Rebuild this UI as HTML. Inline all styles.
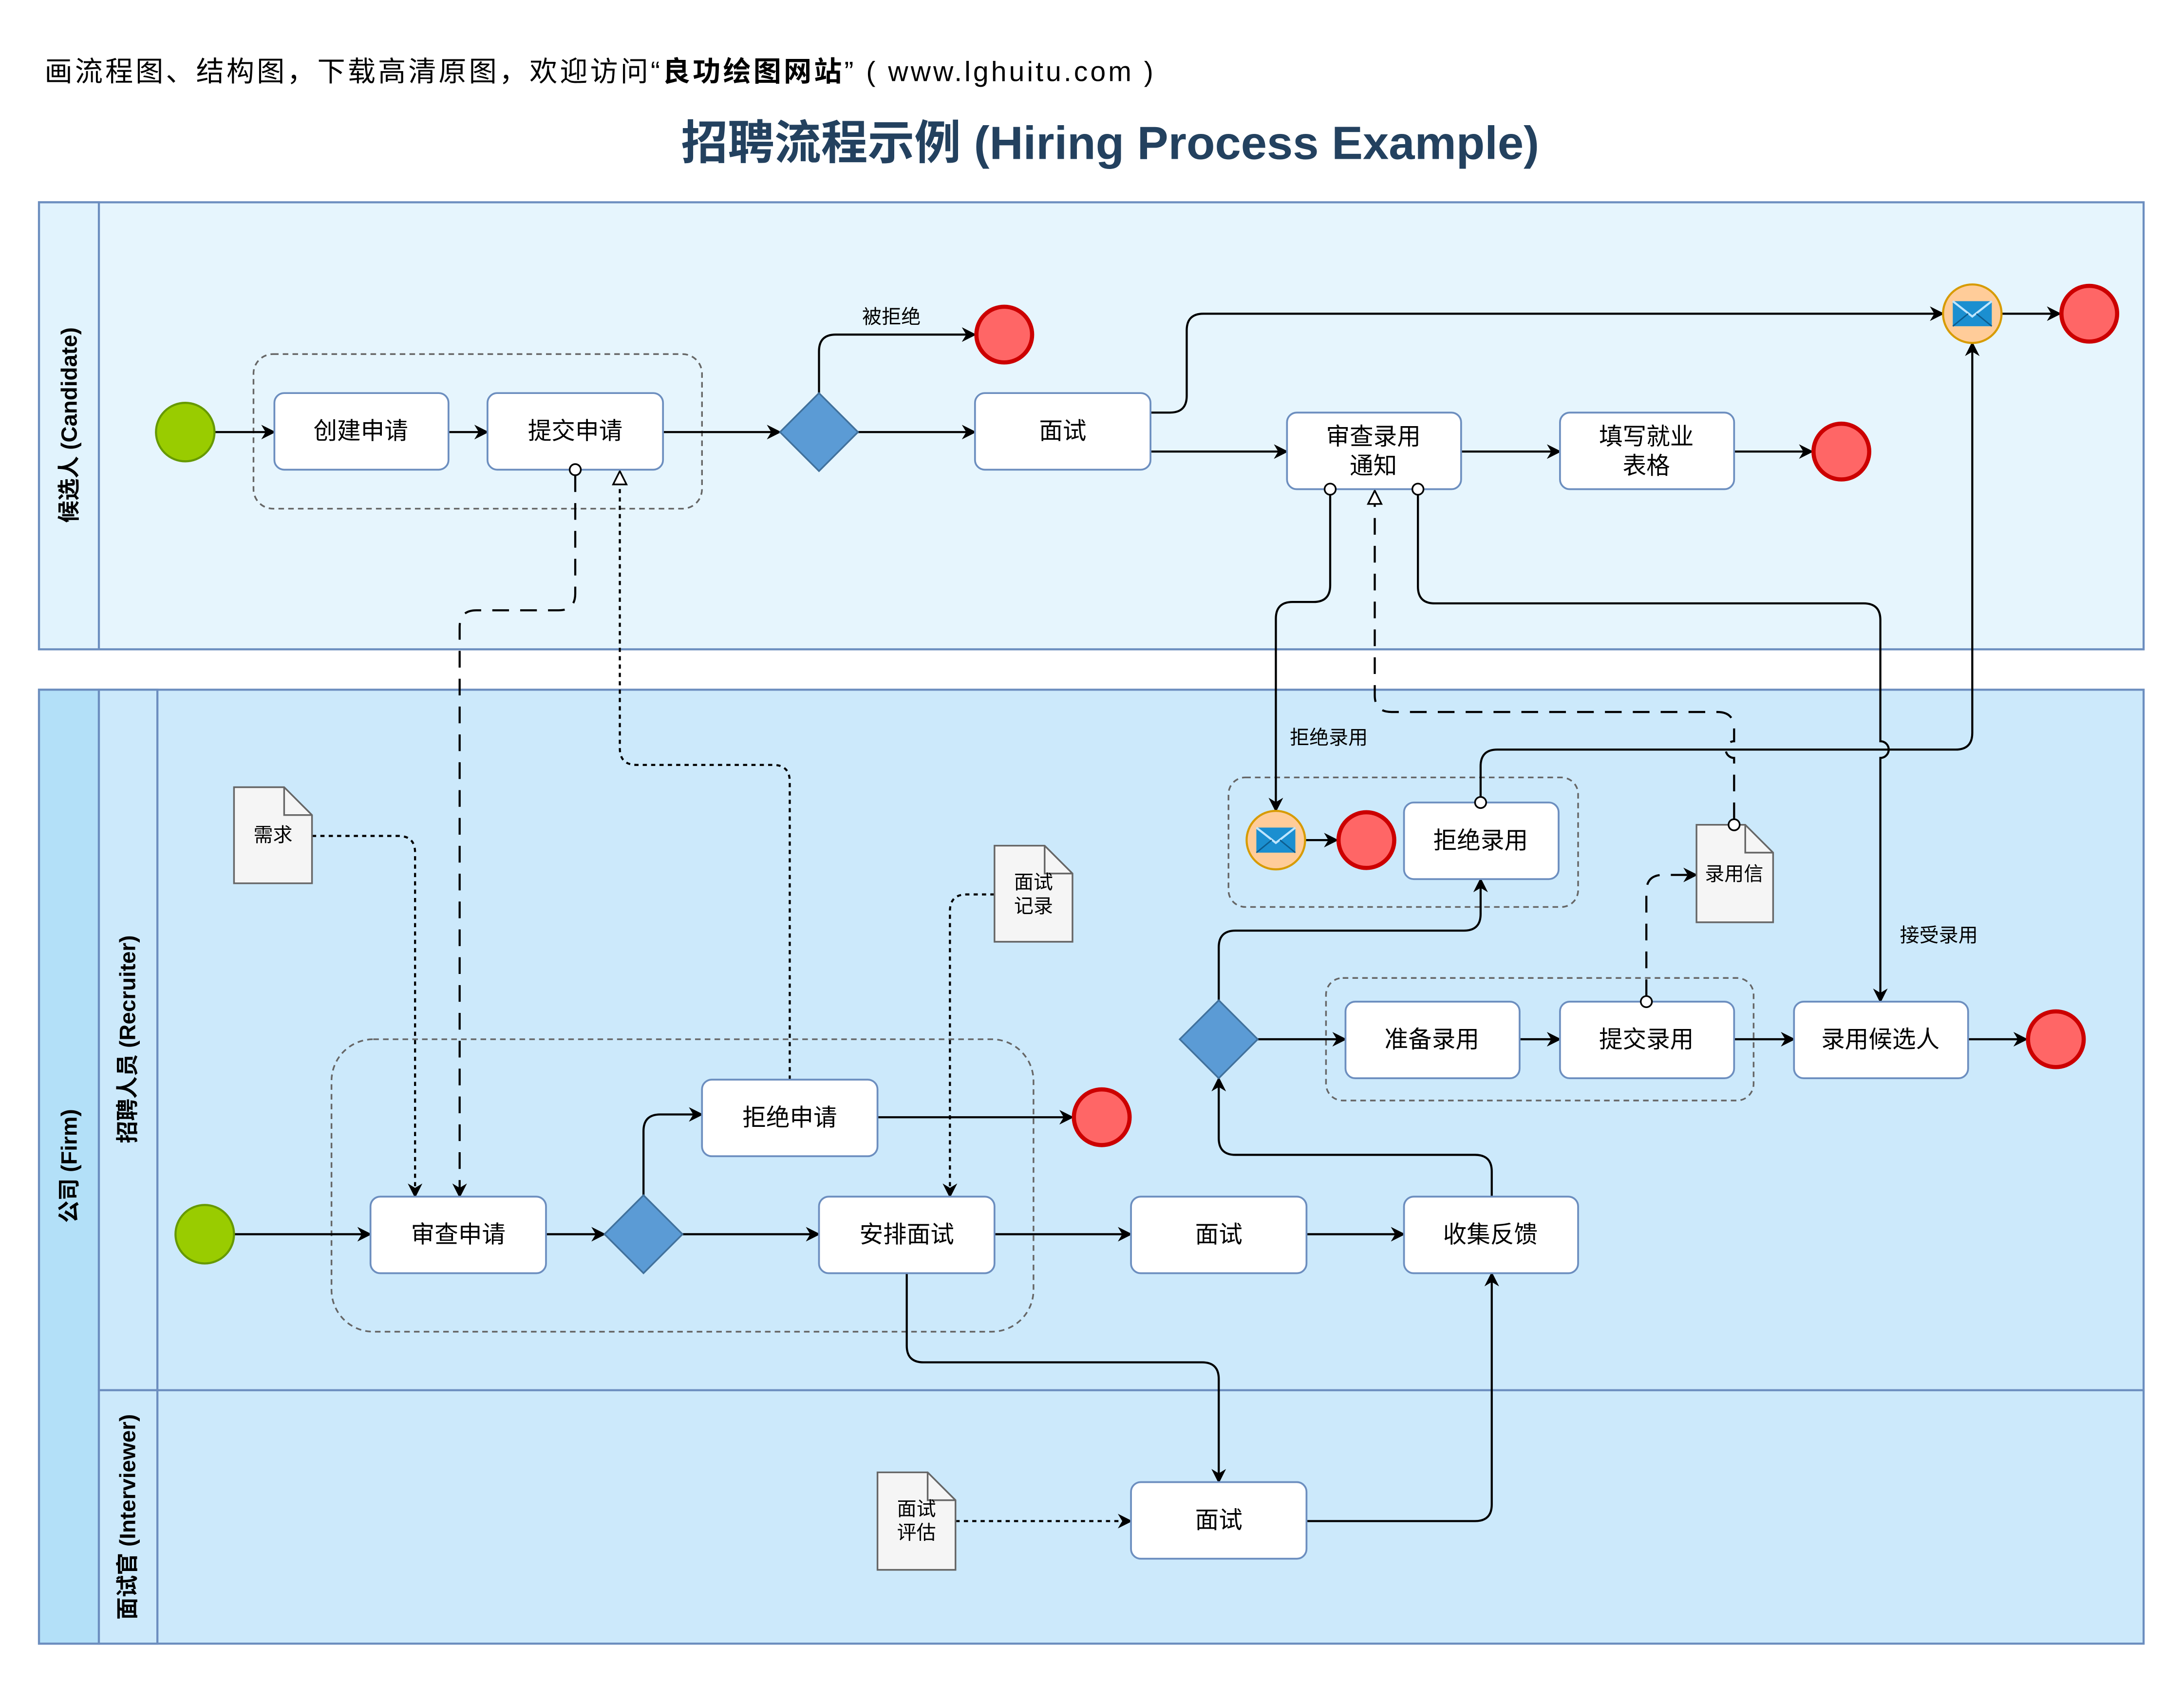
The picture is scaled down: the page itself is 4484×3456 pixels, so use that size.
<!DOCTYPE html>
<html><head><meta charset="utf-8"><style>
html,body{margin:0;padding:0;background:#fff}
svg{display:block}
text{font-family:"Liberation Sans","Noto Sans CJK SC",sans-serif}
</style></head><body>
<svg width="4484" height="3456" viewBox="0 0 1568 1208" xmlns="http://www.w3.org/2000/svg">
<defs>
<marker id="a" viewBox="0 0 10 10" refX="9" refY="5" markerWidth="7" markerHeight="7" orient="auto"><path d="M0,0 L10,5 L0,10 L3,5 z" fill="#000"/></marker>
<marker id="t" viewBox="0 0 10 10" refX="9" refY="5" markerWidth="8" markerHeight="8" orient="auto"><path d="M1,1 L9,5 L1,9 z" fill="#fff" stroke="#000" stroke-width="1"/></marker>
<g id="mail"><circle r="21" fill="#ffcc99" stroke="#d79b00" stroke-width="1.5"/><rect x="-14" y="-9" width="28" height="18" fill="#1b8fd0"/><path d="M-14,-9 L0,2 L14,-9" fill="none" stroke="#bfe6ff" stroke-width="1.5"/><path d="M-14,9 L-3,0 M14,9 L3,0" stroke="#0d5d8f" stroke-width="1"/></g>
</defs>
<text x="32" y="58" font-size="20" fill="#000" textLength="796" lengthAdjust="spacing">画流程图、结构图，下载高清原图，欢迎访问“<tspan font-weight="bold">良功绘图网站</tspan>” ( www.lghuitu.com )</text>
<text x="797" y="114" font-size="33.5" font-weight="bold" fill="#23415f" text-anchor="middle">招聘流程示例 (Hiring Process Example)</text>

<rect x="28" y="145" width="1511" height="321" fill="#e6f5fd" stroke="#6c8ebf" stroke-width="1.5"/>
<rect x="28" y="145" width="43" height="321" fill="#e1f3fd" stroke="#6c8ebf" stroke-width="1.5"/>
<text transform="translate(55,305) rotate(-90)" font-size="16" font-weight="bold" text-anchor="middle">候选人 (Candidate)</text>

<rect x="28" y="495" width="1511" height="685" fill="#cce9fb" stroke="#6c8ebf" stroke-width="1.5"/>
<rect x="28" y="495" width="43" height="685" fill="#b3e0f8" stroke="#6c8ebf" stroke-width="1.5"/>
<rect x="71" y="495" width="42" height="503" fill="#cce9fb" stroke="#6c8ebf" stroke-width="1.5"/>
<rect x="71" y="998" width="42" height="182" fill="#cce9fb" stroke="#6c8ebf" stroke-width="1.5"/>
<line x1="113" y1="998" x2="1539" y2="998" stroke="#6c8ebf" stroke-width="1.5"/>
<text transform="translate(55,837) rotate(-90)" font-size="16" font-weight="bold" text-anchor="middle">公司 (Firm)</text>
<text transform="translate(97,746) rotate(-90)" font-size="16" font-weight="bold" text-anchor="middle">招聘人员 (Recruiter)</text>
<text transform="translate(97,1089) rotate(-90)" font-size="16" font-weight="bold" text-anchor="middle">面试官 (Interviewer)</text>

<g fill="none" stroke="#666" stroke-dasharray="4 3" stroke-width="1.2">
<rect x="182" y="254" width="322" height="111" rx="14"/>
<rect x="238" y="746" width="504" height="210" rx="30"/>
<rect x="952" y="702" width="307" height="88" rx="12"/>
<rect x="882" y="558" width="251" height="93" rx="12"/>
</g>

<g fill="none" stroke="#000" stroke-width="1.5">
<path d="M154,310 H197" marker-end="url(#a)"/>
<path d="M322,310 H350" marker-end="url(#a)"/>
<path d="M476,310 H560" marker-end="url(#a)"/>
<path d="M616,310 H700" marker-end="url(#a)"/>
<path d="M588,282 V252 q0,-12 12,-12 H700" marker-end="url(#a)"/>
<path d="M826,296 H840 q12,0 12,-12 V237 q0,-12 12,-12 H1395" marker-end="url(#a)"/>
<path d="M826,324 H924" marker-end="url(#a)"/>
<path d="M1049,324 H1120" marker-end="url(#a)"/>
<path d="M1245,324 H1301" marker-end="url(#a)"/>
<path d="M1437,225 H1479" marker-end="url(#a)"/>
<path d="M955,355 V420 q0,12 -12,12 H928 q-12,0 -12,12 V582" marker-end="url(#a)"/>
<path d="M1018,355 V421 q0,12 12,12 H1338 q12,0 12,12 V532 a6,6 0 0 1 0,12 V719" marker-end="url(#a)"/>
<path d="M1063,572 V550 q0,-12 12,-12 H1404 q12,0 12,-12 V246" marker-end="url(#a)"/>
<path d="M1245,588 V544 a6,6 0 0 1 0,-12 V523 q0,-12 -12,-12 H999 q-12,0 -12,-12 V352" stroke-dasharray="12 8" marker-end="url(#t)"/>
<path d="M1182,715 V640 q0,-12 12,-12 H1218" stroke-dasharray="12 8" marker-end="url(#a)"/>
<path d="M413,341 V426 q0,12 -12,12 H342 q-12,0 -12,12 V859" stroke-dasharray="12 8" marker-end="url(#a)"/>
<path d="M567,775 V561 q0,-12 -12,-12 H457 q-12,0 -12,-12 V338" stroke-dasharray="3 3" marker-end="url(#t)"/>
<path d="M224,600 H286 q12,0 12,12 V859" stroke-dasharray="3 3" marker-end="url(#a)"/>
<path d="M714,642 H694 q-12,0 -12,12 V859" stroke-dasharray="3 3" marker-end="url(#a)"/>
<path d="M686,1092 H812" stroke-dasharray="3 3" marker-end="url(#a)"/>
<path d="M168,886 H266" marker-end="url(#a)"/>
<path d="M392,886 H434" marker-end="url(#a)"/>
<path d="M490,886 H588" marker-end="url(#a)"/>
<path d="M462,858 V812 q0,-12 12,-12 H504" marker-end="url(#a)"/>
<path d="M630,802 H770" marker-end="url(#a)"/>
<path d="M714,886 H812" marker-end="url(#a)"/>
<path d="M938,886 H1008" marker-end="url(#a)"/>
<path d="M651,914 V966 q0,12 12,12 H863 q12,0 12,12 V1064" marker-end="url(#a)"/>
<path d="M938,1092 H1059 q12,0 12,-12 V914" marker-end="url(#a)"/>
<path d="M1071,859 V841 q0,-12 -12,-12 H887 q-12,0 -12,-12 V774" marker-end="url(#a)"/>
<path d="M903,746 H966" marker-end="url(#a)"/>
<path d="M1091,746 H1120" marker-end="url(#a)"/>
<path d="M1245,746 H1288" marker-end="url(#a)"/>
<path d="M1413,746 H1455" marker-end="url(#a)"/>
<path d="M875,718 V680 q0,-12 12,-12 H1051 q12,0 12,-12 V631" marker-end="url(#a)"/>
<path d="M937,603 H960" marker-end="url(#a)"/>
</g>

<g font-size="14" text-anchor="middle">
<text x="640" y="232">被拒绝</text>
<text x="954" y="534">拒绝录用</text>
<text x="1392" y="676">接受录用</text>
</g>

<g fill="#fff" stroke="#6c8ebf" stroke-width="1.3">
<rect x="197" y="282" width="125" height="55" rx="7"/>
<rect x="350" y="282" width="126" height="55" rx="7"/>
<rect x="700" y="282" width="126" height="55" rx="7"/>
<rect x="924" y="296" width="125" height="55" rx="7"/>
<rect x="1120" y="296" width="125" height="55" rx="7"/>
<rect x="266" y="859" width="126" height="55" rx="7"/>
<rect x="504" y="775" width="126" height="55" rx="7"/>
<rect x="588" y="859" width="126" height="55" rx="7"/>
<rect x="812" y="859" width="126" height="55" rx="7"/>
<rect x="1008" y="859" width="125" height="55" rx="7"/>
<rect x="966" y="719" width="125" height="55" rx="7"/>
<rect x="1120" y="719" width="125" height="55" rx="7"/>
<rect x="1288" y="719" width="125" height="55" rx="7"/>
<rect x="1008" y="576" width="111" height="55" rx="7"/>
<rect x="812" y="1064" width="126" height="55" rx="7"/>
</g>
<g font-size="17" text-anchor="middle">
<text x="259" y="315">创建申请</text>
<text x="413" y="315">提交申请</text>
<text x="763" y="315">面试</text>
<text x="986" y="319">审查录用</text>
<text x="986" y="340">通知</text>
<text x="1182" y="319">填写就业</text>
<text x="1182" y="340">表格</text>
<text x="329" y="892">审查申请</text>
<text x="567" y="808">拒绝申请</text>
<text x="651" y="892">安排面试</text>
<text x="875" y="892">面试</text>
<text x="1070" y="892">收集反馈</text>
<text x="1028" y="752">准备录用</text>
<text x="1182" y="752">提交录用</text>
<text x="1350" y="752">录用候选人</text>
<text x="1063" y="609">拒绝录用</text>
<text x="875" y="1097">面试</text>
</g>

<g fill="#fff" stroke="#000" stroke-width="1.2">
<circle cx="955" cy="351" r="4"/><circle cx="1018" cy="351" r="4"/>
<circle cx="1063" cy="576" r="4"/>
<circle cx="1182" cy="719" r="4"/><circle cx="413" cy="337" r="4"/>
</g>

<g fill="#5b9bd5" stroke="#41719c" stroke-width="1.2">
<path d="M588,282 L616,310 L588,338 L560,310 z"/>
<path d="M462,858 L490,886 L462,914 L434,886 z"/>
<path d="M875,718 L903,746 L875,774 L847,746 z"/>
</g>

<g fill="#99cc00" stroke="#669900" stroke-width="1.5">
<circle cx="133" cy="310" r="21"/><circle cx="147" cy="886" r="21"/>
</g>
<g fill="#ff6666" stroke="#cc0000" stroke-width="3">
<circle cx="721" cy="240" r="20"/><circle cx="1322" cy="324" r="20"/><circle cx="1500" cy="225" r="20"/>
<circle cx="791" cy="802" r="20"/><circle cx="1476" cy="746" r="20"/><circle cx="981" cy="603" r="20"/>
</g>
<use href="#mail" x="1416" y="225"/>
<use href="#mail" x="916" y="603"/>

<g fill="#f5f5f5" stroke="#666" stroke-width="1.2">
<path d="M168,565 H204 L224,585 V634 H168 z"/><path d="M204,565 V585 H224" fill="none"/>
<path d="M714,607 H750 L770,627 V676 H714 z"/><path d="M750,607 V627 H770" fill="none"/>
<path d="M1218,592 H1253 L1273,612 V662 H1218 z"/><path d="M1253,592 V612 H1273" fill="none"/>
<path d="M630,1057 H666 L686,1077 V1127 H630 z"/><path d="M666,1057 V1077 H686" fill="none"/>
</g>
<g fill="#fff" stroke="#000" stroke-width="1.2">
<circle cx="1245" cy="592" r="4"/>
</g>
<g font-size="14" text-anchor="middle">
<text x="196" y="604">需求</text>
<text x="742" y="638">面试</text><text x="742" y="655">记录</text>
<text x="1245" y="632">录用信</text>
<text x="658" y="1088">面试</text><text x="658" y="1105">评估</text>
</g>
</svg>
</body></html>
